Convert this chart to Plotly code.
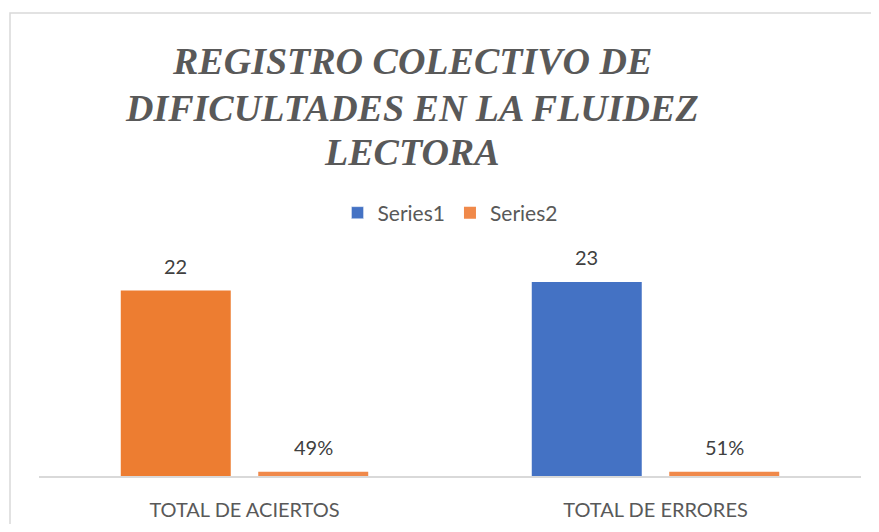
import plotly.graph_objects as go

categories = ["TOTAL DE ACIERTOS", "TOTAL DE ERRORES"]
series1 = [22, 23]
series2 = [0.49, 0.51]
series1_labels = ["22", "23"]
series2_labels = ["49%", "51%"]
series1_colors = ["#ED7D31", "#4472C4"]
series1_legend_color = "#4472C4"
series2_color = "#F0894A"
title_lines = ["REGISTRO COLECTIVO DE", "DIFICULTADES EN LA FLUIDEZ", "LECTORA"]

# page has an 8px body margin on every side; figure sized to avoid scrollbars
OFF = 8
W, H = 879 - 2 * OFF, 532 - 2 * OFF
ml = 39 - OFF
mt = 245 - OFF
mr = W - (861 - OFF)
mb = H - (476 - OFF)
plot_w = W - ml - mr
plot_h = H - mt - mb

bargap, bargroupgap = 0.331, 0.2
slot = plot_w / len(categories) * (1 - bargap) / 2  # px per trace slot

def px_y(y_win):
    return (H - mb - (y_win - OFF)) / plot_h

def px_x(x_win):
    return ((x_win - OFF) - ml) / plot_w

label_font = dict(family="Lato", size=20, color="#404040")

fig = go.Figure()
fig.add_trace(go.Bar(
    name="Series1", x=[categories[0]], y=[None], offsetgroup="1",
    marker=dict(color=series1_legend_color), legendgroup="s1",
))
fig.add_trace(go.Bar(
    name="Series1", x=categories, y=series1, offsetgroup="1",
    marker=dict(color=series1_colors, line=dict(width=0)),
    showlegend=False, legendgroup="s1",
))
fig.add_trace(go.Bar(
    name="Series2", x=categories, y=series2, offsetgroup="2",
    marker=dict(color=series2_color, line=dict(width=0)),
))

annotations = []
for cat, v, lab in zip(categories, series1, series1_labels):
    annotations.append(dict(x=cat, y=v, xref="x", yref="y", text=lab, showarrow=False,
                            xshift=-slot / 2, yshift=25, yanchor="middle", font=label_font))
for cat, v, lab in zip(categories, series2, series2_labels):
    annotations.append(dict(x=cat, y=v, xref="x", yref="y", text=lab, showarrow=False,
                            xshift=slot / 2, yshift=25, yanchor="middle", font=label_font))

title_y = [61, 108, 152]
for line, yw in zip(title_lines, title_y):
    annotations.append(dict(text=line, xref="paper", yref="paper", x=px_x(412), y=px_y(yw),
                            xanchor="center", yanchor="middle", showarrow=False,
                            font=dict(family="Liberation Serif", size=38, color="#595959",
                                      weight="bold", style="italic")))

fig.update_layout(
    width=W, height=H,
    margin=dict(l=ml, r=mr, t=mt, b=mb, autoexpand=False),
    paper_bgcolor="white", plot_bgcolor="white",
    barmode="group", bargap=bargap, bargroupgap=bargroupgap,
    showlegend=True,
    legend=dict(orientation="h", x=0.5, xanchor="center", xref="paper",
                y=px_y(213), yanchor="middle", yref="paper",
                font=dict(family="Lato", size=21, color="#595959"),
                traceorder="normal"),
    xaxis=dict(type="category", categoryorder="array", categoryarray=categories,
               showline=True, linecolor="#D9D9D9", linewidth=1.5, ticks="",
               ticklabelstandoff=15, automargin=False,
               tickfont=dict(family="Lato", size=20, color="#595959"), showgrid=False),
    yaxis=dict(range=[0, 27.4], visible=False, showgrid=False, automargin=False),
    annotations=annotations,
    shapes=[dict(type="rect", xref="paper", yref="paper",
                 x0=px_x(10), x1=1.2,
                 y0=-0.5, y1=px_y(13),
                 line=dict(color="#D9D9D9", width=1.5), fillcolor="rgba(0,0,0,0)",
                 layer="below")],
)

fig.write_html("out.html")
